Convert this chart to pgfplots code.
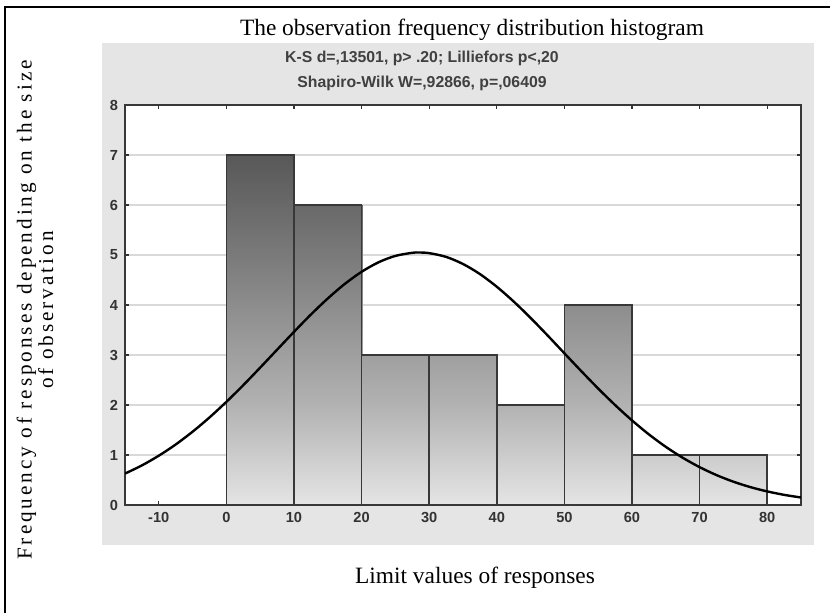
\documentclass[border=0pt]{standalone}
\usepackage{pgfplots}
\pgfplotsset{compat=1.18}
\usepackage{fontspec}
\setmainfont{Liberation Serif}
\setsansfont{Liberation Sans}
\setmonofont{Liberation Mono}
\newfontfamily\spacedserif{Liberation Serif}[LetterSpace=14]
\begin{document}
\begin{tikzpicture}
\useasboundingbox (0,0) rectangle (415pt,-306.5pt);
\fill[white] (0,0) rectangle (415pt,-306.5pt);
% frame lines
\draw[black, line width=1pt] (2.5pt,-306.5pt) -- (2.5pt,-3.5pt) -- (415pt,-3.5pt);
% gray panel
\fill[black!10] (51pt,-21.5pt) rectangle (407pt,-272.5pt);
\begin{axis}[
  at={(62.5pt,-252.5pt)}, anchor=south west,
  scale only axis, width=338pt, height=200pt,
  xmin=-15, xmax=85, ymin=0, ymax=8,
  xtick={-10,0,10,20,30,40,50,60,70,80},
  xticklabels={-10,0,10,20,30,40,50,60,70,80},
  ytick={0,1,2,3,4,5,6,7,8},
  yticklabels={0,1,2,3,4,5,6,7,8},
  ymajorgrids, grid style={black!15, line width=0.6pt},
  tick align=inside, major tick length=2pt,
  tick style={black!80, line width=0.6pt},
  axis line style={black!78, line width=1.1pt},
  axis background/.style={fill=white},
  ticklabel style={font=\sffamily\bfseries\fontsize{7.3}{8}\selectfont, text=black!80},
  colormap={bars}{rgb255(0cm)=(229,229,229); rgb255(2cm)=(178,178,178); rgb255(5cm)=(122,122,122); rgb255(7cm)=(88,88,88); rgb255(8cm)=(76,76,76)},
  point meta min=0, point meta max=8,
]
% gradient bars (two triangles per bar, colour follows height)
\addplot[patch, shader=interp, point meta=y] coordinates {
(0,0)(10,0)(10,7) (0,0)(10,7)(0,7)
(10,0)(20,0)(20,6) (10,0)(20,6)(10,6)
(20,0)(30,0)(30,3) (20,0)(30,3)(20,3)
(30,0)(40,0)(40,3) (30,0)(40,3)(30,3)
(40,0)(50,0)(50,2) (40,0)(50,2)(40,2)
(50,0)(60,0)(60,4) (50,0)(60,4)(50,4)
(60,0)(70,0)(70,1) (60,0)(70,1)(60,1)
(70,0)(80,0)(80,1) (70,0)(80,1)(70,1)
};
% bar outlines
\addplot[ybar interval, draw=black!78, line width=0.75pt, fill=none] coordinates {
(0,7)(10,6)(20,3)(30,3)(40,2)(50,4)(60,1)(70,1)(80,1)
};
% fitted normal curve
\addplot[black, line width=1.2pt, smooth] coordinates {
(-15,0.628)(-12.5,0.792)(-10,0.986)(-7.5,1.210)(-5,1.466)(-2.5,1.751)
(0,2.063)(2.5,2.397)(5,2.748)(7.5,3.106)(10,3.463)(12.5,3.809)(15,4.131)
(17.5,4.420)(20,4.664)(22.5,4.854)(25,4.982)(27.5,5.044)(28.5,5.05)(30,5.037)
(32.5,4.962)(35,4.820)(37.5,4.619)(40,4.365)(42.5,4.069)(45,3.741)(47.5,3.393)
(50,3.034)(52.5,2.677)(55,2.329)(57.5,1.999)(60,1.692)(62.5,1.412)(65,1.163)
(67.5,0.945)(70,0.757)(72.5,0.598)(75,0.466)(77.5,0.358)(80,0.272)(82.5,0.203)(85,0.150)
};
\end{axis}
\node[font=\fontsize{11.7}{13}\selectfont] at (236pt,-15pt) {The observation frequency distribution histogram};
\node[font=\sffamily\bfseries\fontsize{7.9}{9}\selectfont, text=black!75] at (211pt,-29pt) {K-S d=,13501, p> .20; Lilliefors p<,20};
\node[font=\sffamily\bfseries\fontsize{7.9}{9}\selectfont, text=black!75] at (211pt,-41.5pt) {Shapiro-Wilk W=,92866, p=,06409};
\node[font=\fontsize{11.7}{13}\selectfont] at (237.5pt,-289pt) {Limit values of responses};
\node[font=\spacedserif\fontsize{10.6}{10.8}\selectfont, rotate=90, align=center] at (17.5pt,-155pt) {Frequency of responses depending on the size\\of observation};
\end{tikzpicture}
\end{document}
